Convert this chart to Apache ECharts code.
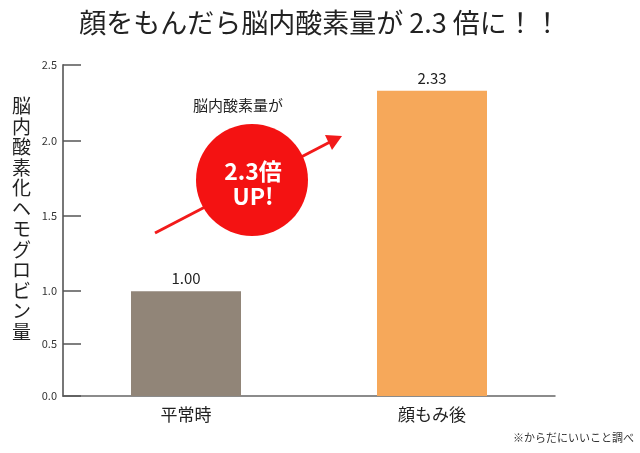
<!DOCTYPE html>
<html><head><meta charset="utf-8">
<script src="https://cdn.jsdelivr.net/npm/echarts@6/dist/echarts.min.js"></script>
<style>html,body{margin:0;padding:0;background:#fff}#c{width:640px;height:453px}</style>
</head><body><div id="c"></div>
<script>
const categories = ['平常時', '顔もみ後'];
const values = [1.00, 2.33];
const valueLabels = ['1.00', '2.33'];
const tickValues = [0, 0.5, 1.0, 1.5, 2.0, 2.5];
const tickLabels = ['0.0', '0.5', '1.0', '1.5', '2.0', '2.5'];
const barColors = ['#918578', '#F6A85A'];
const titleText = '顔をもんだら脳内酸素量が 2.3 倍に！！';
const yName = '脳内酸素化ヘモグロビン量';
const noteText = '※からだにいいこと調べ';
const annoText = '脳内酸素量が';
const badgeText = ['2.3倍', 'UP!'];

// the reference axis is piecewise: 0–1 compressed, 1–2.5 stretched
function pos(v) { return v <= 1 ? v * 105 : 105 + (v - 1) * 151; }

const font = '"Noto Sans CJK JP", "Noto Sans", sans-serif';
const chart = echarts.init(document.getElementById('c'));
chart.setOption({
  animation: false,
  textStyle: { fontFamily: font },
  title: { text: titleText, left: 'center', top: 4,
    textStyle: { fontSize: 27, fontWeight: 'normal', color: '#222', fontFamily: font } },
  grid: { left: 63, right: 85, top: 65, bottom: 57 },
  xAxis: { type: 'category', data: categories,
    axisLine: { lineStyle: { color: '#666', width: 1.5 } },
    axisTick: { show: false },
    axisLabel: { fontSize: 17, color: '#222', margin: 10, fontFamily: font } },
  yAxis: { type: 'value', min: 0, max: pos(2.5),
    splitLine: { show: false },
    axisLine: { show: true, lineStyle: { color: '#777', width: 2 } },
    axisTick: { show: true, inside: true, length: 18, lineStyle: { color: '#555', width: 1.5 },
      customValues: tickValues.map(pos) },
    axisLabel: { fontSize: 11, color: '#333', margin: 6,
      customValues: tickValues.map(pos),
      formatter: function (v) { const i = tickValues.map(pos).findIndex(p => Math.abs(p - v) < 0.01); return i >= 0 ? tickLabels[i] : ''; } } },
  series: [{ type: 'bar', barWidth: 110,
    data: values.map((v, i) => ({ value: pos(v), itemStyle: { color: barColors[i] } })),
    label: { show: true, position: 'top', distance: 5, fontSize: 15, color: '#222',
      formatter: p => valueLabels[p.dataIndex] } }],
  graphic: [
    { type: 'text', left: 12, top: 96, style: { text: yName.split('').join('\n'), font: '19px ' + font, lineHeight: 20.5, fill: '#222', align: 'center' } },
    { type: 'text', right: 6, top: 432, style: { text: noteText, font: '11px ' + font, fill: '#333' } },
    { type: 'text', x: 238, y: 105, style: { text: annoText, font: '15px ' + font, fill: '#222', align: 'center', verticalAlign: 'middle' } },
    { type: 'line', shape: { x1: 155, y1: 233, x2: 330, y2: 142 }, style: { stroke: '#F21A1A', lineWidth: 3 } },
    { type: 'polygon', shape: { points: [[342, 136], [325, 135], [332, 150]] }, style: { fill: '#F21A1A' } },
    { type: 'circle', shape: { cx: 252, cy: 180, r: 56 }, style: { fill: '#F41212' } },
    { type: 'text', x: 253, y: 171, style: { text: badgeText[0], font: 'bold 23px ' + font, fill: '#fff', align: 'center', verticalAlign: 'middle' } },
    { type: 'text', x: 253, y: 196, style: { text: badgeText[1], font: 'bold 23px ' + font, fill: '#fff', align: 'center', verticalAlign: 'middle' } }
  ]
});
</script></body></html>
